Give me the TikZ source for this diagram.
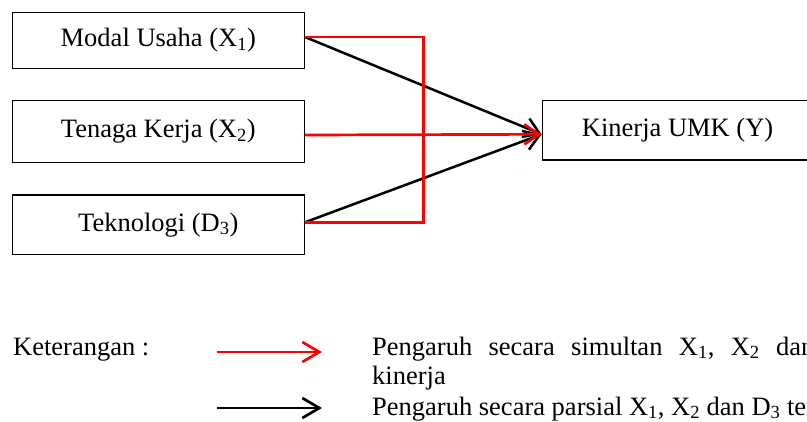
\documentclass[tikz,border=0pt]{standalone}
\usepackage{fontspec}
\setmainfont{Liberation Serif}
\usetikzlibrary{arrows.meta}
\definecolor{legred}{RGB}{255,0,0}
\begin{document}
\begin{tikzpicture}[x=1pt,y=-1pt,
  box/.style={draw, line width=1.3pt, inner sep=0pt, minimum width=292pt,
    font=\fontsize{26.5}{30}\selectfont},
  txt/.style={inner sep=0pt, font=\fontsize{26.5}{30}\selectfont},
  redline/.style={draw=legred, line width=2.7pt},
  blackline/.style={draw=black, line width=2.5pt},
  bigtip/.style={-{Straight Barb[length=15pt,width=20pt]}},
  legtip/.style={-{Straight Barb[length=17pt,width=20pt]}}]
\useasboundingbox (0,0) rectangle (807,421);
\clip (0,0) rectangle (807,421);
% boxes
\node[box, minimum height=56pt] (b1) at (158.3,40.3) {Modal Usaha (X\textsubscript{1})};
\node[box, minimum height=62pt] (b2) at (158.3,131.3) {Tenaga Kerja (X\textsubscript{2})};
\node[box, minimum height=59.3pt] (b3) at (158.3,224.7) {Teknologi (D\textsubscript{3})};
\node[box, minimum width=270.7pt, minimum height=59.3pt] (y) at (677.6,130.3) {Kinerja UMK (Y)};
% connectors
\coordinate (tip) at ([yshift=-4pt]y.west);
\coordinate (s1) at ([yshift=3.3pt]b1.east);
\coordinate (s2) at ([yshift=-3.7pt]b2.east);
\coordinate (s3) at ([yshift=2.4pt]b3.east);
\draw[blackline, bigtip] (s1) -- (tip);
\draw[blackline, bigtip] (s3) -- (tip);
\draw[redline, line join=miter] (s1) -| (423.3,222.3) -- (s3);
\draw[redline, bigtip] (s2) -- (tip);
% legend
\node[txt, anchor=base west] (ket) at (13,355) {Keterangan :};
\coordinate (ra) at (217,352);
\coordinate (rb) at (322,352);
\coordinate (ka) at (217,408);
\coordinate (kb) at (322,408);
\draw[redline, legtip] (ra) -- (rb);
\draw[blackline, line width=2.7pt, legtip] (ka) -- (kb);
\node[txt, anchor=base west] (l1) at (372,355) {\hbox to 595pt{Pengaruh\hfil secara\hfil simultan\hfil X\textsubscript{1},\hfil X\textsubscript{2}\hfil dan\hfil D\textsubscript{3}\hfil terhadap}};
\node[txt, anchor=base west] (l2) at (372,384) {kinerja};
\node[txt, anchor=base west] (l3) at (372,415) {Pengaruh secara parsial X\textsubscript{1}, X\textsubscript{2} dan D\textsubscript{3} terhadap kinerja};
\end{tikzpicture}
\end{document}
